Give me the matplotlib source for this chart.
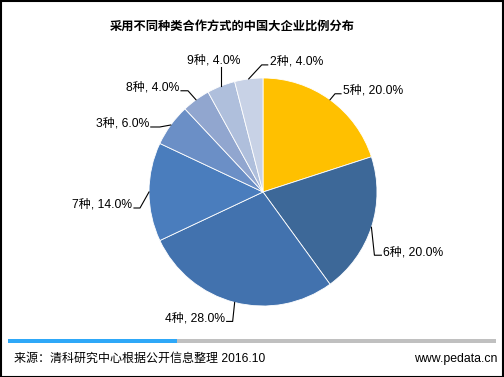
import matplotlib
matplotlib.use("Agg")
import matplotlib.pyplot as plt
import numpy as np

plt.rcParams['font.family'] = ['Liberation Sans', 'Noto Sans CJK SC', 'DejaVu Sans']

categories = ['5种', '6种', '4种', '7种', '3种', '8种', '9种', '2种']
values = [20.0, 20.0, 28.0, 14.0, 6.0, 4.0, 4.0, 4.0]
colors = ['#FFC000', '#3D6898', '#4272AE', '#4A7DBD', '#6B8FC6', '#91A6CF', '#AFBFDC', '#C8D2E6']
title = '采用不同种类合作方式的中国大企业比例分布'
source = '来源：清科研究中心根据公开信息整理 2016.10'
site = 'www.pedata.cn'

W, H = 504, 377
fig = plt.figure(figsize=(W / 100, H / 100), dpi=100)
cx, cy, R = 263, 192, 114
ax = fig.add_axes([0, 0, 1, 1])
ax.axis('off')

wedges, _ = ax.pie(values, colors=colors, startangle=90, counterclock=False,
                   radius=1, center=(0, 0),
                   wedgeprops=dict(edgecolor='white', linewidth=0.6))
ax.set_xlim(-cx / R, (W - cx) / R)
ax.set_ylim((cy - H) / R, cy / R)
ax.set_aspect('auto')

# leader layout in px: elbow offset, line end offset, alignment
layout = [
    ((5, -6), (11, -6), 'left'),      # 5种
    ((3, 28), (10, 28), 'left'),      # 6种
    ((-2, 19), (-8, 19), 'right'),    # 4种
    ((-9, 16), (-15, 16), 'right'),   # 7种
    ((-11, 2), (-20, 2), 'right'),    # 3种
    ((-8, -9), (-15, -9), 'right'),   # 8种
    ((0, -19), (0, -19), 'center'),   # 9种
    ((13, -14), (19, -14), 'left'),   # 2种
]
for w, cat, val, (elb, toff, ha) in zip(wedges, categories, values, layout):
    ang = np.deg2rad((w.theta1 + w.theta2) / 2)
    x0, y0 = np.cos(ang), np.sin(ang)
    ex, ey = x0 + elb[0] / R, y0 - elb[1] / R
    tx, ty = x0 + toff[0] / R, y0 - toff[1] / R
    ax.plot([x0, ex, tx], [y0, ey, ty], color='black', lw=0.8)
    label = f'{cat}, {val:.1f}%'
    if ha == 'center':
        ax.text(tx - 7 / R, ty + 1 / R, label, ha='center', va='bottom',
                fontsize=8.7, color='black')
    else:
        dx = 2 / R if ha == 'left' else -2 / R
        ax.text(tx + dx, ty + 3 / R, label, ha=ha, va='center',
                fontsize=8.7, color='black')

fig.text(232 / W, 1 - 27 / H, title, ha='center', va='center', fontsize=8.8,
         fontweight='bold', color='black')

# bottom bar
fig.patches.append(plt.Rectangle((8 / W, 1 - 343 / H), (496 - 8) / W, 4 / H,
                                 transform=fig.transFigure, color='#C0C0C0', lw=0))
fig.patches.append(plt.Rectangle((8 / W, 1 - 343 / H), (177 - 8) / W, 4 / H,
                                 transform=fig.transFigure, color='#2EA8F8', lw=0))
fig.text(14 / W, 1 - 359 / H, source, ha='left', va='center', fontsize=8.65, color='black')
fig.text(497 / W, 1 - 359 / H, site, ha='right', va='center', fontsize=8.8, color='black')

# outer frame
fig.patches.append(plt.Rectangle((0.5 / W, 0.5 / H), (W - 1.5) / W, (H - 1.5) / H,
                                 transform=fig.transFigure, fill=False,
                                 edgecolor='black', lw=1.5))

fig.savefig('out.png', dpi=100)
